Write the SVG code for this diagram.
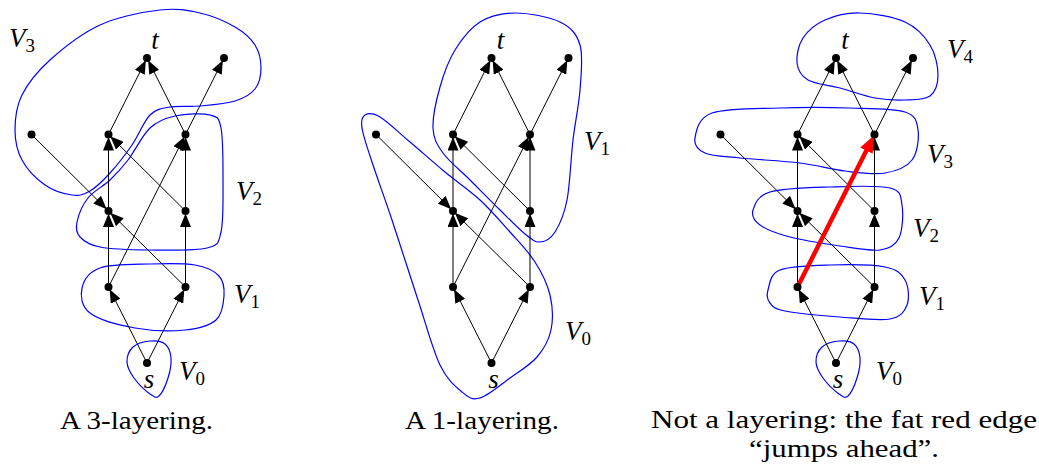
<svg xmlns="http://www.w3.org/2000/svg" width="1039" height="466" viewBox="0 0 1039 466" font-family="'Liberation Serif','Times New Roman',serif">
<style>
.e{stroke:#000;stroke-width:1;fill:none;marker-end:url(#ah)}
.red{stroke:#ff0000;stroke-width:4.5;fill:none;marker-end:url(#ahr)}
.hull{fill:none;stroke:#0000ff;stroke-width:1.2}
.mi{font-family:'Liberation Serif','Times New Roman',serif;font-style:italic;font-size:27px;fill:#000}
.sub{font-style:normal;font-size:19px}
.cap{font-family:'Liberation Serif','Times New Roman',serif;font-size:26px;fill:#000}
.lab{text-anchor:middle}
</style>
<defs>
<marker id="ah" markerUnits="userSpaceOnUse" viewBox="0 0 17 11" markerWidth="17" markerHeight="11" refX="16" refY="5.5" orient="auto"><path d="M0,0 L13.5,5.5 L0,11 Z" fill="#000"/></marker>
<marker id="ahr" markerUnits="userSpaceOnUse" viewBox="0 0 20 14" markerWidth="20" markerHeight="14" refX="2" refY="7" orient="auto"><path d="M0,0 L17,7 L0,14 Z" fill="#ff0000"/></marker>
<circle id="dot" r="4" fill="#000"/>
<path id="v0hull" d="M150,341 C155.33,340.5 161.5,341.17 165,344 C168.5,346.83 170.5,352.33 171,358 C171.5,363.67 170,371.67 168,378 C166,384.33 162,393.33 159,396 C156,398.67 154.17,397 150,394 C145.83,391 137.83,383.33 134,378 C130.17,372.67 127.17,367.17 127,362 C126.83,356.83 129.17,350.5 133,347 C136.83,343.5 144.67,341.5 150,341 Z"/>
</defs>

<g id="layers1">
<use href="#v0hull" class="hull"/>
<path class="hull" d="M82,288 C83.67,280.5 88.67,272 100,268 C111.33,264 134.17,264.5 150,264 C165.83,263.5 183.5,263 195,265 C206.5,267 214.17,270.83 219,276 C223.83,281.17 224.5,288.67 224,296 C223.5,303.33 222.5,314.33 216,320 C209.5,325.67 198.5,328.67 185,330 C171.5,331.33 150.83,330.83 135,328 C119.17,325.17 98.83,319.67 90,313 C81.17,306.33 80.33,295.5 82,288 Z"/>
<path class="hull" d="M77,222 C78.33,215.5 82.5,205 88,198 C93.5,191 103.33,186.33 110,180 C116.67,173.67 121.33,168.67 128,160 C134.67,151.33 142.17,135.33 150,128 C157.83,120.67 165,118.17 175,116 C185,113.83 202.33,113 210,115 C217.67,117 218.83,117.17 221,128 C223.17,138.83 223,162.67 223,180 C223,197.33 223.67,220.67 221,232 C218.33,243.33 218.83,245 207,248 C195.17,251 167.83,250.17 150,250 C132.17,249.83 111.67,249.17 100,247 C88.33,244.83 83.83,241.17 80,237 C76.17,232.83 75.67,228.5 77,222 Z"/>
<path class="hull" d="M160,10 C176.67,8 187.5,10.17 200,13 C212.5,15.83 225.83,21.67 235,27 C244.17,32.33 250.67,38.17 255,45 C259.33,51.83 261,60.67 261,68 C261,75.33 259.33,83.5 255,89 C250.67,94.5 244.17,98.17 235,101 C225.83,103.83 210.83,105 200,106 C189.17,107 178.33,105.5 170,107 C161.67,108.5 156.33,108.67 150,115 C143.67,121.33 138.67,135.33 132,145 C125.33,154.67 117,165.33 110,173 C103,180.67 96.33,187.33 90,191 C83.67,194.67 79.5,196 72,195 C64.5,194 53.33,190.83 45,185 C36.67,179.17 27,169.17 22,160 C17,150.83 15,140.83 15,130 C15,119.17 16.17,106.67 22,95 C27.83,83.33 37,71.67 50,60 C63,48.33 81.67,33.33 100,25 C118.33,16.67 143.33,12 160,10 Z"/>
<text class="mi" x="9" y="47">V<tspan class="sub" dy="5">3</tspan></text>
<text class="mi" x="236" y="200">V<tspan class="sub" dy="5">2</tspan></text>
<text class="mi" x="234" y="303">V<tspan class="sub" dy="5">1</tspan></text>
<text class="mi" x="179" y="380">V<tspan class="sub" dy="5">0</tspan></text>
</g>

<g id="layers2">
<path class="hull" d="M515,13 C528.33,13 549.17,16.67 560,22 C570.83,27.33 576.67,33.67 580,45 C583.33,56.33 581.17,74.17 580,90 C578.83,105.83 575.17,121.67 573,140 C570.83,158.33 570,184.67 567,200 C564,215.33 559.5,225 555,232 C550.5,239 545,241.67 540,242 C535,242.33 531.67,239.33 525,234 C518.33,228.67 509.17,219 500,210 C490.83,201 479.5,189.5 470,180 C460.5,170.5 449.17,161.67 443,153 C436.83,144.33 433.5,139 433,128 C432.5,117 436.33,100 440,87 C443.67,74 448.33,60.83 455,50 C461.67,39.17 470,28.17 480,22 C490,15.83 501.67,13 515,13 Z"/>
<path class="hull" d="M365,115 C368,113.17 372.5,112.5 380,117 C387.5,121.5 399.17,132.83 410,142 C420.83,151.17 433.33,162.33 445,172 C456.67,181.67 469.17,190 480,200 C490.83,210 500.83,221.67 510,232 C519.17,242.33 528.33,251.5 535,262 C541.67,272.5 547.33,283.67 550,295 C552.67,306.33 553.17,319.67 551,330 C548.83,340.33 543.83,349 537,357 C530.17,365 519.5,371.17 510,378 C500.5,384.83 488,395.67 480,398 C472,400.33 468.67,397.5 462,392 C455.33,386.5 447.33,380.33 440,365 C432.67,349.67 426,324.17 418,300 C410,275.83 399.67,243 392,220 C384.33,197 377,177.33 372,162 C367,146.67 363.17,135.83 362,128 C360.83,120.17 362,116.83 365,115 Z"/>
<text class="mi" x="584" y="150">V<tspan class="sub" dy="5">1</tspan></text>
<text class="mi" x="565" y="340">V<tspan class="sub" dy="5">0</tspan></text>
</g>

<g id="layers3">
<use href="#v0hull" class="hull" transform="translate(689,0)"/>
<path class="hull" d="M768,290 C769.67,284.5 769.67,274.17 780,270 C790.33,265.83 812.5,265.5 830,265 C847.5,264.5 872.5,264.5 885,267 C897.5,269.5 901.33,273.67 905,280 C908.67,286.33 909.5,298.5 907,305 C904.5,311.5 901.17,317 890,319 C878.83,321 857.5,318.33 840,317 C822.5,315.67 796.67,313.33 785,311 C773.33,308.67 772.83,306.5 770,303 C767.17,299.5 766.33,295.5 768,290 Z"/>
<path class="hull" d="M753,210 C754.67,204.5 757.17,195.83 770,192 C782.83,188.17 810,187.67 830,187 C850,186.33 878,185 890,188 C902,191 900.5,196.67 902,205 C903.5,213.33 902.67,230.5 899,238 C895.33,245.5 889.83,248.67 880,250 C870.17,251.33 855,248.17 840,246 C825,243.83 803.33,240.5 790,237 C776.67,233.5 766.17,229.5 760,225 C753.83,220.5 751.33,215.5 753,210 Z"/>
<path class="hull" d="M695,138 C696.17,131.33 697.83,118 712,113 C726.17,108 757,108.83 780,108 C803,107.17 829.17,107.33 850,108 C870.83,108.67 893.67,108.33 905,112 C916.33,115.67 916.83,122 918,130 C919.17,138 917.5,152.83 912,160 C906.5,167.17 896.17,171.17 885,173 C873.83,174.83 859.17,172.67 845,171 C830.83,169.33 817.5,165.17 800,163 C782.5,160.83 755.83,159.67 740,158 C724.17,156.33 712.5,156.33 705,153 C697.5,149.67 693.83,144.67 695,138 Z"/>
<path class="hull" d="M860,13 C873.33,13.33 893.33,16.67 905,22 C916.67,27.33 924.5,36.17 930,45 C935.5,53.83 938,66.5 938,75 C938,83.5 935.5,91.83 930,96 C924.5,100.17 914.17,99.67 905,100 C895.83,100.33 885.83,100 875,98 C864.17,96 851.17,91 840,88 C828.83,85 815.17,84.17 808,80 C800.83,75.83 797.83,70 797,63 C796.17,56 798.33,45.17 803,38 C807.67,30.83 815.5,24.17 825,20 C834.5,15.83 846.67,12.67 860,13 Z"/>
<text class="mi" x="947" y="58">V<tspan class="sub" dy="5">4</tspan></text>
<text class="mi" x="927" y="163">V<tspan class="sub" dy="5">3</tspan></text>
<text class="mi" x="913" y="237">V<tspan class="sub" dy="5">2</tspan></text>
<text class="mi" x="919" y="305">V<tspan class="sub" dy="5">1</tspan></text>
<text class="mi" x="876" y="380">V<tspan class="sub" dy="5">0</tspan></text>
</g>

<g id="diagram1" transform="translate(147,0)">
<g id="d1-edges">
<path class="e" d="M0,363 L-38.5,287"/>
<path class="e" d="M0,363 L38.5,287"/>
<path class="e" d="M-38.5,287 L-38.5,211"/>
<path class="e" d="M38.5,287 L38.5,211"/>
<path class="e" d="M38.5,287 L-38.5,211"/>
<path class="e" d="M-38.5,287 L38.5,134.5"/>
<path class="e" d="M-115.5,134.5 L-38.5,211"/>
<path class="e" d="M-38.5,211 L-38.5,134.5"/>
<path class="e" d="M38.5,211 L-38.5,134.5"/>
<path class="e" d="M38.5,211 L38.5,134.5"/>
<path class="e" d="M-38.5,134.5 L0,58"/>
<path class="e" d="M38.5,134.5 L0,58"/>
<path class="e" d="M38.5,134.5 L77,58"/>
</g>
<g id="d1-s"><use href="#dot" x="0" y="363"/><text class="mi lab" x="2" y="388">s</text></g>
<g id="d1-a1"><use href="#dot" x="-38.5" y="287"/></g>
<g id="d1-b1"><use href="#dot" x="38.5" y="287"/></g>
<g id="d1-a2"><use href="#dot" x="-38.5" y="211"/></g>
<g id="d1-b2"><use href="#dot" x="38.5" y="211"/></g>
<g id="d1-a3"><use href="#dot" x="-38.5" y="134.5"/></g>
<g id="d1-b3"><use href="#dot" x="38.5" y="134.5"/></g>
<g id="d1-c"><use href="#dot" x="-115.5" y="134.5"/></g>
<g id="d1-t"><use href="#dot" x="0" y="58"/><text class="mi lab" x="8" y="49">t</text></g>
<g id="d1-d"><use href="#dot" x="77" y="58"/></g>
</g>

<g id="diagram2" transform="translate(491.5,0)">
<g id="d2-edges">
<path class="e" d="M0,363 L-38.5,287"/>
<path class="e" d="M0,363 L38.5,287"/>
<path class="e" d="M-38.5,287 L-38.5,211"/>
<path class="e" d="M38.5,287 L38.5,211"/>
<path class="e" d="M38.5,287 L-38.5,211"/>
<path class="e" d="M-38.5,287 L38.5,134.5"/>
<path class="e" d="M-115.5,134.5 L-38.5,211"/>
<path class="e" d="M-38.5,211 L-38.5,134.5"/>
<path class="e" d="M38.5,211 L-38.5,134.5"/>
<path class="e" d="M38.5,211 L38.5,134.5"/>
<path class="e" d="M-38.5,134.5 L0,58"/>
<path class="e" d="M38.5,134.5 L0,58"/>
<path class="e" d="M38.5,134.5 L77,58"/>
</g>
<g id="d2-s"><use href="#dot" x="0" y="363"/><text class="mi lab" x="2" y="388">s</text></g>
<g id="d2-a1"><use href="#dot" x="-38.5" y="287"/></g>
<g id="d2-b1"><use href="#dot" x="38.5" y="287"/></g>
<g id="d2-a2"><use href="#dot" x="-38.5" y="211"/></g>
<g id="d2-b2"><use href="#dot" x="38.5" y="211"/></g>
<g id="d2-a3"><use href="#dot" x="-38.5" y="134.5"/></g>
<g id="d2-b3"><use href="#dot" x="38.5" y="134.5"/></g>
<g id="d2-c"><use href="#dot" x="-115.5" y="134.5"/></g>
<g id="d2-t"><use href="#dot" x="0" y="58"/><text class="mi lab" x="9" y="49">t</text></g>
<g id="d2-d"><use href="#dot" x="77" y="58"/></g>
</g>

<g id="diagram3" transform="translate(836,0)">
<g id="d3-edges">
<path class="e" d="M0,363 L-38.5,287"/>
<path class="e" d="M0,363 L38.5,287"/>
<path class="e" d="M-38.5,287 L-38.5,211"/>
<path class="e" d="M38.5,287 L38.5,211"/>
<path class="e" d="M38.5,287 L-38.5,211"/>
<path class="e" d="M-115.5,134.5 L-38.5,211"/>
<path class="e" d="M-38.5,211 L-38.5,134.5"/>
<path class="e" d="M38.5,211 L-38.5,134.5"/>
<path class="e" d="M38.5,211 L38.5,134.5"/>
<path class="e" d="M-38.5,134.5 L0,58"/>
<path class="e" d="M38.5,134.5 L0,58"/>
<path class="e" d="M38.5,134.5 L77,58"/>
<path class="red" d="M-38.5,287 L31.3,148.8"/>
</g>
<g id="d3-s"><use href="#dot" x="0" y="363"/><text class="mi lab" x="2" y="388">s</text></g>
<g id="d3-a1"><use href="#dot" x="-38.5" y="287"/></g>
<g id="d3-b1"><use href="#dot" x="38.5" y="287"/></g>
<g id="d3-a2"><use href="#dot" x="-38.5" y="211"/></g>
<g id="d3-b2"><use href="#dot" x="38.5" y="211"/></g>
<g id="d3-a3"><use href="#dot" x="-38.5" y="134.5"/></g>
<g id="d3-b3"><use href="#dot" x="38.5" y="134.5"/></g>
<g id="d3-c"><use href="#dot" x="-115.5" y="134.5"/></g>
<g id="d3-t"><use href="#dot" x="0" y="58"/><text class="mi lab" x="9" y="49">t</text></g>
<g id="d3-d"><use href="#dot" x="77" y="58"/></g>
</g>

<g id="captions">
<text class="cap" x="60" y="429" textLength="153" lengthAdjust="spacingAndGlyphs">A 3-layering.</text>
<text class="cap" x="405" y="429" textLength="154" lengthAdjust="spacingAndGlyphs">A 1-layering.</text>
<text class="cap" x="651" y="428" textLength="386" lengthAdjust="spacingAndGlyphs">Not a layering: the fat red edge</text>
<text class="cap" x="749" y="457" textLength="190" lengthAdjust="spacingAndGlyphs">“jumps ahead”.</text>
</g>
</svg>
